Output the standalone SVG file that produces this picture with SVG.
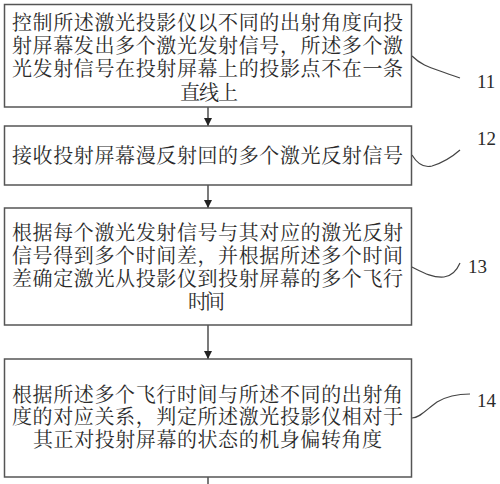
<svg xmlns="http://www.w3.org/2000/svg" width="500" height="484" viewBox="0 0 500 484">
<style>
.box{fill:#fff;stroke:#555;stroke-width:1.5}
.t{font-family:"Noto Serif CJK SC","Noto Sans CJK SC",sans-serif;font-size:20px;fill:#2a2a2a}
.n{font-family:"Liberation Serif",serif;font-size:19px;fill:#2a2a2a}
.c{fill:none;stroke:#333;stroke-width:1.3}
.l{fill:none;stroke:#444;stroke-width:1.2}
</style>
<defs>
<marker id="ah" viewBox="0 0 10 10" refX="10" refY="5" markerWidth="8" markerHeight="8" markerUnits="userSpaceOnUse" orient="auto">
<path d="M0,0 L10,5 L0,10 z" fill="#222"/>
</marker>
</defs>
<rect width="500" height="484" fill="#fff"/>
<g id="connectors">
<line class="c" x1="208" y1="107" x2="208" y2="126" marker-end="url(#ah)"/>
<line class="c" x1="208" y1="185" x2="208" y2="208" marker-end="url(#ah)"/>
<line class="c" x1="208" y1="325" x2="208" y2="359" marker-end="url(#ah)"/>
<line class="c" x1="208" y1="477" x2="208" y2="484"/>
<path class="l" d="M412,56 C420,64 428,67 440,71 C448,74 454,76 460,78"/>
<path class="l" d="M412,155 C418,165 424,168 432,166 C442,163 452,157 460,150"/>
<path class="l" d="M412,267 C422,272 432,278 444,277 C452,276 457,270 460,263"/>
<path class="l" d="M412,418 C420,418 428,408 437,402 C447,396 458,394 470,394"/>
</g>
<g id="n11">
<rect class="box" x="4.5" y="4.5" width="407" height="102.5"/>
<text class="t" x="12" y="30" textLength="391" lengthAdjust="spacing">控制所述激光投影仪以不同的出射角度向投</text>
<text class="t" x="12" y="53" textLength="391" lengthAdjust="spacing">射屏幕发出多个激光发射信号，所述多个激</text>
<text class="t" x="12" y="76" textLength="391" lengthAdjust="spacing">光发射信号在投射屏幕上的投影点不在一条</text>
<text class="t" x="180" y="99.5" textLength="58" lengthAdjust="spacing">直线上</text>
<text class="n" x="477" y="88">11</text>
</g>
<g id="n12">
<rect class="box" x="4.5" y="126" width="407" height="59"/>
<text class="t" x="12" y="163" textLength="391" lengthAdjust="spacing">接收投射屏幕漫反射回的多个激光反射信号</text>
<text class="n" x="477" y="145">12</text>
</g>
<g id="n13">
<rect class="box" x="4.5" y="208" width="407" height="117"/>
<text class="t" x="12" y="240" textLength="391" lengthAdjust="spacing">根据每个激光发射信号与其对应的激光反射</text>
<text class="t" x="12" y="263" textLength="391" lengthAdjust="spacing">信号得到多个时间差，并根据所述多个时间</text>
<text class="t" x="12" y="285.5" textLength="391" lengthAdjust="spacing">差确定激光从投影仪到投射屏幕的多个飞行</text>
<text class="t" x="188" y="309" textLength="37" lengthAdjust="spacing">时间</text>
<text class="n" x="468" y="273">13</text>
</g>
<g id="n14">
<rect class="box" x="4.5" y="359" width="407" height="118"/>
<text class="t" x="12" y="401.5" textLength="391" lengthAdjust="spacing">根据所述多个飞行时间与所述不同的出射角</text>
<text class="t" x="12" y="424" textLength="391" lengthAdjust="spacing">度的对应关系，判定所述激光投影仪相对于</text>
<text class="t" x="33" y="446.5" textLength="349" lengthAdjust="spacing">其正对投射屏幕的状态的机身偏转角度</text>
<text class="n" x="477" y="407">14</text>
</g>
</svg>
